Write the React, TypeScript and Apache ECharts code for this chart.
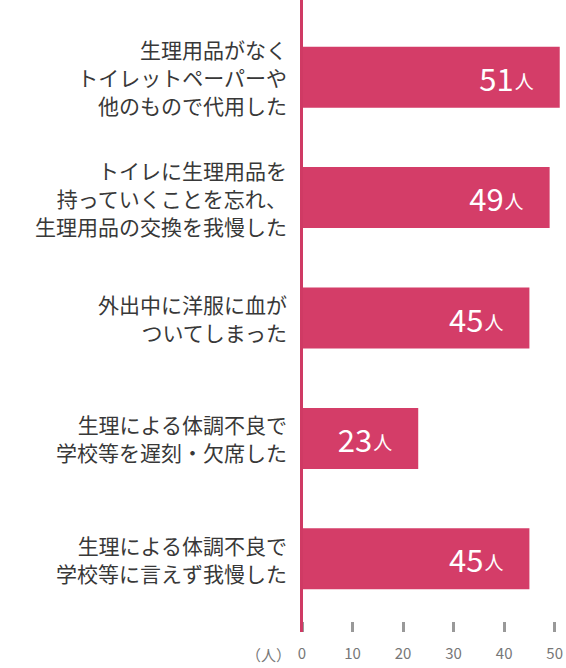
import React, { useEffect, useRef } from 'react';
import * as echarts from 'echarts';

const categories = [
  '生理用品がなく\nトイレットペーパーや\n他のもので代用した',
  'トイレに生理用品を\n持っていくことを忘れ、\n生理用品の交換を我慢した',
  '外出中に洋服に血が\nついてしまった',
  '生理による体調不良で\n学校等を遅刻・欠席した',
  '生理による体調不良で\n学校等に言えず我慢した',
];
const values = [51, 49, 45, 23, 45];
const unit = '人';
const axisName = '（人）';

const FONT = '"Noto Sans CJK JP", "Noto Sans", sans-serif';
const BAR = '#d43d68';

const App: React.FC = () => {
  const chartRef = useRef<HTMLDivElement | null>(null);

  useEffect(() => {
    document.body.style.margin = '0';
    if (!chartRef.current) return;
    const chart = echarts.init(chartRef.current, undefined, { renderer: 'svg' });

    const option: echarts.EChartsOption = {
      animation: false,
      textStyle: { fontFamily: FONT },
      grid: { left: 302, right: 10, top: 17, bottom: 49 },
      xAxis: {
        type: 'value',
        min: 0,
        max: 50,
        interval: 10,
        offset: 3,
        axisLine: { show: false },
        axisTick: { show: true, length: 10, lineStyle: { color: '#999', width: 3 } },
        splitLine: { show: false },
        axisLabel: { color: '#777', fontSize: 15, margin: 23, fontFamily: FONT },
      },
      yAxis: {
        type: 'category',
        inverse: true,
        data: categories,
        axisLine: { show: false },
        axisTick: { show: false },
        axisLabel: {
          color: '#383838',
          fontSize: 21,
          lineHeight: 28,
          margin: 15,
          align: 'right',
          fontFamily: FONT,
        },
      },
      series: [
        {
          type: 'bar',
          data: values,
          barWidth: 61,
          clip: false,
          itemStyle: { color: BAR },
          label: {
            show: true,
            position: 'insideRight',
            distance: 26,
            formatter: (p: any) => `{n|${p.value}}{u|${unit}}`,
            rich: {
              n: { color: '#fff', fontSize: 31, fontFamily: FONT },
              u: { color: '#fff', fontSize: 19, fontFamily: FONT, padding: [6, 0, 0, 1] },
            },
          },
        },
      ],
      graphic: [
        {
          type: 'line',
          z: 10,
          shape: { x1: 301.5, y1: 0, x2: 301.5, y2: 632 },
          style: { stroke: '#cf3a64', lineWidth: 3 },
        },
        {
          type: 'text',
          x: 291,
          y: 654,
          style: {
            text: axisName,
            fill: '#777',
            font: `15px ${FONT}`,
            align: 'right',
            verticalAlign: 'middle',
          },
        },
      ],
    };

    chart.setOption(option);
    return () => {
      chart.dispose();
    };
  }, []);

  return <div ref={chartRef} style={{ width: 566, height: 668 }} />;
};

export default App;
